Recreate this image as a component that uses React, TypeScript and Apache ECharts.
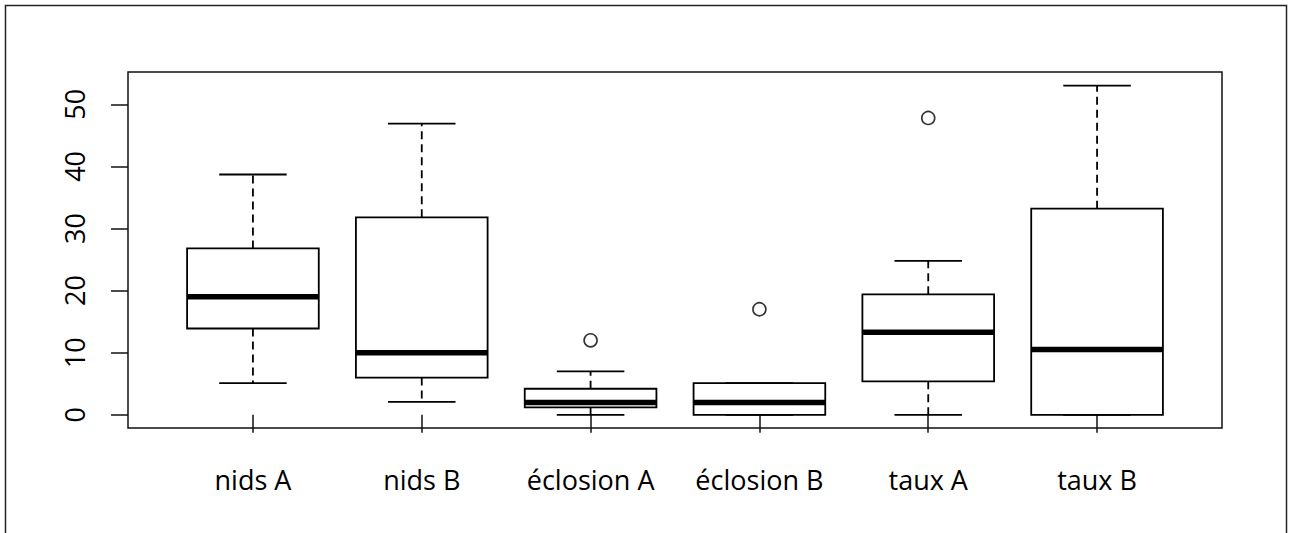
import React, { useEffect, useRef } from "react";
import * as echarts from "echarts";

const categories = ["nids A", "nids B", "éclosion A", "éclosion B", "taux A", "taux B"];
const lowerWhisker = [5.1, 2.1, 0, 0, 0, 0];
const q1 = [13.9, 6, 1.2, 0, 5.4, 0];
const median = [19, 10, 2, 2, 13.3, 10.5];
const q3 = [26.8, 31.8, 4.2, 5.1, 19.4, 33.2];
const upperWhisker = [38.7, 46.9, 7, 5.1, 24.8, 53];
const outlierPos = [3, 4, 5];
const outlierVal = [12, 17, 47.8];
const yTicks = [0, 10, 20, 30, 40, 50];

const FONT = "'Open Sans', sans-serif";

export default function App() {
  const ref = useRef<HTMLDivElement>(null);
  useEffect(() => {
    document.body.style.margin = "0";
    const chart = echarts.init(ref.current!, null, { renderer: "svg" });
    const boxData = categories.map((_, i) => [i + 1, lowerWhisker[i], q1[i], median[i], q3[i], upperWhisker[i]]);
    const positions = categories.map((_, i) => i + 1);
    chart.setOption({
      animation: false,
      backgroundColor: "#fff",
      graphic: [
        {
          type: "rect",
          shape: { x: 5.5, y: 5.5, width: 1281, height: 620 },
          style: { fill: "none", stroke: "#222", lineWidth: 1.5 },
          silent: true,
        },
      ],
      grid: {
        left: 128,
        top: 72,
        right: 70,
        bottom: 105,
        show: true,
        borderColor: "#111",
        borderWidth: 1.5,
        backgroundColor: "transparent",
      },
      xAxis: {
        type: "value",
        min: 0.26,
        max: 6.74,
        axisLine: { show: false },
        splitLine: { show: false },
        axisTick: { show: true, customValues: positions, length: 18, lineStyle: { color: "#111", width: 1.5 } },
        axisLabel: {
          customValues: positions,
          formatter: (v: number) => categories[Math.round(v) - 1] ?? "",
          fontSize: 27,
          fontFamily: FONT,
          color: "#000",
          margin: 38,
        },
      },
      yAxis: {
        type: "value",
        min: -2.12,
        max: 55.2,
        axisLine: { show: false },
        splitLine: { show: false },
        axisTick: { show: true, customValues: yTicks, length: 17, lineStyle: { color: "#111", width: 1.5 } },
        axisLabel: {
          customValues: yTicks,
          rotate: 90,
          fontSize: 27,
          fontFamily: FONT,
          color: "#000",
          margin: 40,
        },
      },
      series: [
        {
          type: "custom",
          data: boxData,
          encode: { x: 0, y: [1, 2, 3, 4, 5] },
          renderItem: (params: any, api: any) => {
            const x = api.value(0);
            const lo = api.value(1);
            const b1 = api.value(2);
            const md = api.value(3);
            const b3 = api.value(4);
            const hi = api.value(5);
            const pL = api.coord([x - 0.39, b3]);
            const pR = api.coord([x + 0.39, b1]);
            const cL = api.coord([x - 0.2, hi])[0];
            const cR = api.coord([x + 0.2, hi])[0];
            const cx = api.coord([x, 0])[0];
            const yHi = api.coord([x, hi])[1];
            const yLo = api.coord([x, lo])[1];
            const yQ1 = api.coord([x, b1])[1];
            const yQ3 = api.coord([x, b3])[1];
            const yMd = api.coord([x, md])[1];
            const dash = { stroke: "#000", lineWidth: 1.8, lineDash: [8, 5] };
            const solid = { stroke: "#000", lineWidth: 1.8 };
            const children: any[] = [];
            if (hi > b3) {
              children.push({ type: "line", shape: { x1: cx, y1: yQ3, x2: cx, y2: yHi }, style: dash });
            }
            if (lo < b1) {
              children.push({ type: "line", shape: { x1: cx, y1: yQ1, x2: cx, y2: yLo }, style: dash });
            }
            children.push({ type: "line", shape: { x1: cL, y1: yHi, x2: cR, y2: yHi }, style: solid });
            children.push({ type: "line", shape: { x1: cL, y1: yLo, x2: cR, y2: yLo }, style: solid });
            children.push({
              type: "rect",
              shape: { x: pL[0], y: yQ3, width: pR[0] - pL[0], height: yQ1 - yQ3 },
              style: { fill: "#fff", stroke: "#000", lineWidth: 1.8 },
            });
            children.push({
              type: "line",
              shape: { x1: pL[0], y1: yMd, x2: pR[0], y2: yMd },
              style: { stroke: "#000", lineWidth: 5.5 },
            });
            return { type: "group", children };
          },
        },
        {
          type: "scatter",
          data: outlierPos.map((p, i) => [p, outlierVal[i]]),
          symbol: "circle",
          symbolSize: 13,
          itemStyle: { color: "#fff", borderColor: "#000", borderWidth: 1.6 },
        },
      ],
    });
    return () => chart.dispose();
  }, []);
  return <div ref={ref} style={{ width: 1292, height: 533 }} />;
}
